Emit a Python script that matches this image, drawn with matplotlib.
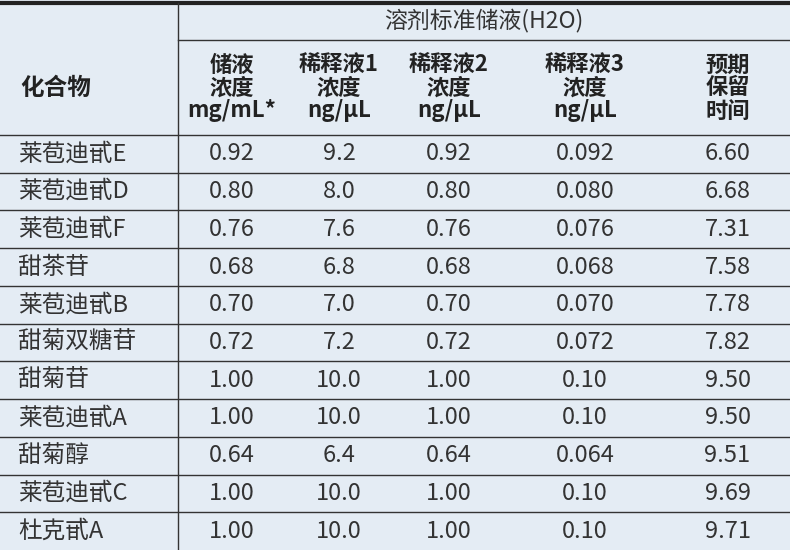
import matplotlib
matplotlib.use("Agg")
import matplotlib.pyplot as plt

plt.rcParams['font.family'] = ['Noto Sans CJK SC', 'DejaVu Sans']

group_title = "溶剂标准储液(H2O)"
col_headers = ["化合物", "储液\n浓度\nmg/mL*", "稀释液1\n浓度\nng/μL", "稀释液2\n浓度\nng/μL",
               "稀释液3\n浓度\nng/μL", "预期\n保留\n时间"]
compounds = ["莱苞迪甙E", "莱苞迪甙D", "莱苞迪甙F", "甜茶苷", "莱苞迪甙B", "甜菊双糖苷",
             "甜菊苷", "莱苞迪甙A", "甜菊醇", "莱苞迪甙C", "杜克甙A"]
stock = ["0.92", "0.80", "0.76", "0.68", "0.70", "0.72", "1.00", "1.00", "0.64", "1.00", "1.00"]
dil1 = ["9.2", "8.0", "7.6", "6.8", "7.0", "7.2", "10.0", "10.0", "6.4", "10.0", "10.0"]
dil2 = ["0.92", "0.80", "0.76", "0.68", "0.70", "0.72", "1.00", "1.00", "0.64", "1.00", "1.00"]
dil3 = ["0.092", "0.080", "0.076", "0.068", "0.070", "0.072", "0.10", "0.10", "0.064", "0.10", "0.10"]
rt = ["6.60", "6.68", "7.31", "7.58", "7.78", "7.82", "9.50", "9.50", "9.51", "9.69", "9.71"]

W, H = 790, 550
fig = plt.figure(figsize=(W/100, H/100), dpi=100)
ax = fig.add_axes([0, 0, 1, 1])
ax.set_xlim(0, W); ax.set_ylim(H, 0); ax.axis('off')
fig.patch.set_facecolor('#e4ecf4')

xb = [0, 178, 285, 393, 505, 665, 790]
centers = [(xb[i]+xb[i+1])/2 for i in range(6)]
y_top, y_grp, y_hdr = 3, 40, 135
rh = (H - y_hdr) / len(compounds)
lc = '#333333'

ax.plot([0, W], [y_top, y_top], color='#222222', lw=3)
ax.plot([178, W], [y_grp, y_grp], color=lc, lw=1)
ax.plot([0, W], [y_hdr, y_hdr], color=lc, lw=1)
for i in range(1, len(compounds)):
    y = y_hdr + i*rh
    ax.plot([0, W], [y, y], color=lc, lw=1)
ax.plot([178, 178], [y_top, H], color=lc, lw=1)

ax.text((178+W)/2, 21, group_title, ha='center', va='center', fontsize=16.5, color='#333333')
ax.text(20, 88, col_headers[0], ha='left', va='center', fontsize=17, fontweight='bold', color='#222222')
for j in range(1, 6):
    ax.text(centers[j], 88, col_headers[j], ha='center', va='center', fontsize=16,
            fontweight='bold', color='#222222', linespacing=1.0)

cols = [stock, dil1, dil2, dil3, rt]
for i, name in enumerate(compounds):
    yc = y_hdr + (i+0.5)*rh
    ax.text(18, yc, name, ha='left', va='center', fontsize=17, color='#333333')
    for j, col in enumerate(cols):
        ax.text(centers[j+1], yc, col[i], ha='center', va='center', fontsize=17, color='#333333')

fig.savefig('out.png', dpi=100, facecolor=fig.get_facecolor())
